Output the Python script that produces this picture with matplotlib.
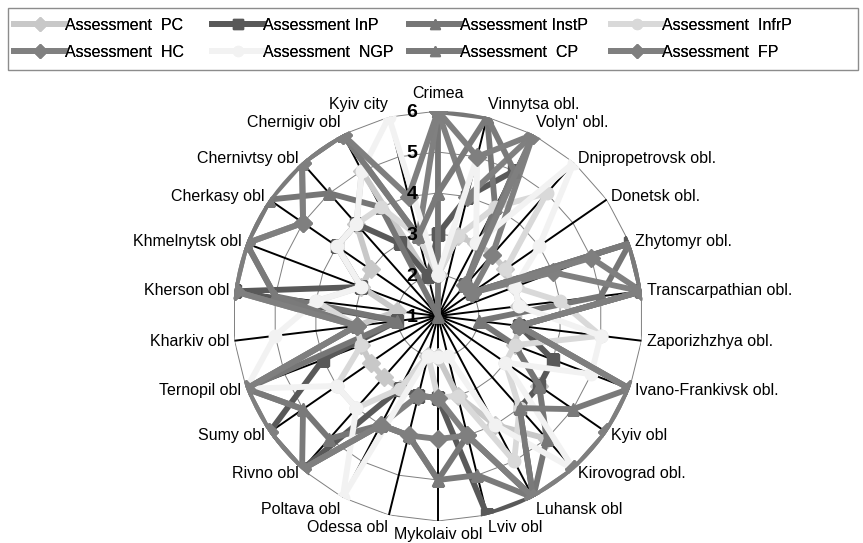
import numpy as np
import matplotlib
matplotlib.use("Agg")
import matplotlib.pyplot as plt
from matplotlib.patches import Rectangle

plt.rcParams['font.family'] = ['Liberation Sans', 'DejaVu Sans']

categories = ["Crimea", "Vinnytsa obl.", "Volyn' obl.", "Dnipropetrovsk obl.", "Donetsk obl.",
              "Zhytomyr obl.", "Transcarpathian obl.", "Zaporizhzhya obl.", "Ivano-Frankivsk obl.",
              "Kyiv obl", "Kirovograd obl.", "Luhansk obl", "Lviv obl", "Mykolaiv obl", "Odessa obl",
              "Poltava obl", "Rivno obl", "Sumy obl", "Ternopil obl", "Kharkiv obl", "Kherson obl",
              "Khmelnytsk obl", "Cherkasy obl", "Chernivtsy obl", "Chernigiv obl", "Kyiv city"]

pc    = [2, 3, 3, 3, 3, 3, 3, 3, 3, 4, 5, 4, 3, 2, 2, 3, 3, 3, 3, 3, 2, 3, 3, 4, 5, 2]
inp   = [3, 4, 5, 2, 2, 6, 6, 3, 4, 4, 4, 6, 6, 3, 3, 3, 6, 6, 4, 2, 6, 3, 4, 4, 3, 2]
instp = [6, 6, 4, 2, 2, 6, 5, 2, 3, 4, 5, 6, 4, 5, 4, 4, 5, 5, 6, 2, 5, 6, 6, 5, 4, 1]
infrp = [2, 3, 4, 5, 3, 3, 4, 5, 3, 3, 4, 5, 3, 3, 2, 3, 4, 4, 3, 3, 4, 3, 4, 4, 4, 3]
hc    = [6, 4, 6, 3, 2, 4, 6, 3, 6, 6, 6, 6, 4, 3, 3, 4, 6, 6, 6, 3, 6, 6, 5, 6, 6, 3]
ngp   = [2, 5, 3, 6, 4, 3, 3, 5, 5, 3, 6, 4, 2, 2, 2, 6, 4, 4, 6, 5, 4, 3, 4, 4, 5, 6]
cp    = [4, 6, 5, 2, 2, 6, 6, 3, 6, 5, 4, 6, 5, 5, 4, 4, 6, 5, 6, 3, 5, 6, 6, 6, 6, 3]
fp    = [6, 5, 6, 2, 2, 5, 6, 3, 6, 6, 6, 6, 4, 4, 4, 4, 6, 6, 6, 3, 6, 6, 5, 6, 6, 4]

series_names = ["Assessment  PC", "Assessment InP", "Assessment InstP", "Assessment  InfrP",
                "Assessment  HC", "Assessment  NGP", "Assessment  CP", "Assessment  FP"]
series_vals = [pc, inp, instp, infrp, hc, ngp, cp, fp]
colors = ["#c8c8c8", "#595959", "#767676", "#d9d9d9", "#808080", "#f2f2f2", "#7a7a7a", "#7f7f7f"]
markers = ["D", "s", "^", "o", "D", "o", "^", "D"]
radial_ticks = [1, 2, 3, 4, 5, 6]

n = len(categories)
angles = np.arange(n) * 2 * np.pi / n
ang_closed = np.append(angles, angles[0])

W, H = 863, 543
fig = plt.figure(figsize=(W / 100, H / 100), dpi=100)
ax = fig.add_axes([0.270, 0.0405, 0.475, 0.755], projection='polar')
ax.set_theta_zero_location('N')
ax.set_theta_direction(-1)
ax.set_ylim(1, 6)
ax.grid(False)
ax.spines['polar'].set_visible(False)
ax.set_xticks([])
ax.set_yticks([])
ax.set_facecolor('none')

# polygon gridlines
for r in radial_ticks[1:]:
    ax.plot(ang_closed, [r] * (n + 1), color='#7f7f7f', lw=0.7, zorder=1)
# spokes
for a in angles:
    ax.plot([a, a], [1, 6], color='black', lw=1.4, zorder=1.5)

handles = []
for name, vals, c, m in zip(series_names, series_vals, colors, markers):
    v = np.append(vals, vals[0])
    h, = ax.plot(ang_closed, v, color=c, lw=4.2, marker=m, markersize=9,
                 markerfacecolor=c, markeredgecolor=c, label=name, zorder=3,
                 solid_joinstyle='round')
    handles.append(h)

# radial labels
for r in radial_ticks:
    ax.annotate(str(r), xy=(0, r), xytext=(-15, -1), textcoords='offset points',
                ha='right', va='center', fontsize=14, fontweight='bold', zorder=5)

# category labels
for a, lab in zip(angles, categories):
    s, c = np.sin(a), np.cos(a)
    ha = 'left' if s > 0.05 else ('right' if s < -0.05 else 'center')
    va = 'bottom' if c > 0.8 else ('top' if c < -0.8 else 'center')
    off = 7 if c > 0.99 else 4
    ax.annotate(lab, xy=(a, 6), xytext=(off * s, off * c), textcoords='offset points',
                ha=ha, va=va, fontsize=11.5, annotation_clip=False)

# legend: frame + 4 columns, row-major order like the original
fig.add_artist(Rectangle((8 / W, 1 - 70 / H), 850 / W, 62 / H, transform=fig.transFigure,
                         fill=False, edgecolor='#8c8c8c', lw=1.0))
col_x = [14, 212, 409, 611]
for j in range(4):
    hs = [handles[j], handles[j + 4]]
    lg = fig.legend(hs, [h.get_label() for h in hs], loc='upper left',
                    bbox_to_anchor=(col_x[j] / W, 1 - 18 / H), frameon=False,
                    fontsize=11.5, handlelength=3.2, handletextpad=0.0,
                    labelspacing=0.75, borderpad=0.0, borderaxespad=0.0, markerscale=0.8)
    fig.add_artist(lg)

fig.savefig('out.png', dpi=100)
